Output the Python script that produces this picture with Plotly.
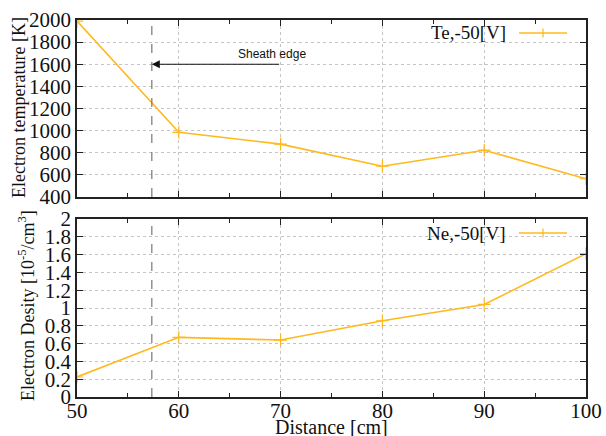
import plotly.graph_objects as go
from plotly.subplots import make_subplots

# Probe measurements at -50 V bias
distance_cm = [50, 60, 70, 80, 90, 100]
te_kelvin = [1990, 985, 878, 678, 823, 565]
ne_density = [0.225, 0.67, 0.64, 0.857, 1.04, 1.61]
sheath_edge_cm = 57.35
te_label = "Te,-50[V]"
ne_label = "Ne,-50[V]"

LINE_COLOR = "#ffb81e"
SERIF = "Liberation Serif, Times New Roman, serif"
W, H = 606, 436
ML, MR, MT, MB = 77, 20, 20, 39
PW, PH = W - ML - MR, H - MT - MB


def px_x(x):
    return (x - ML) / PW


def px_y(y):
    return (H - MB - y) / PH


fig = make_subplots(rows=2, cols=1, shared_xaxes=True, vertical_spacing=0.0)

fig.add_trace(go.Scatter(
    x=distance_cm, y=te_kelvin, mode="lines+markers", name=te_label,
    line=dict(color=LINE_COLOR, width=1.6),
    marker=dict(symbol="cross-thin", size=9, line=dict(color=LINE_COLOR, width=1.2)),
    showlegend=False), row=1, col=1)

fig.add_trace(go.Scatter(
    x=distance_cm, y=ne_density, mode="lines+markers", name=ne_label,
    line=dict(color=LINE_COLOR, width=1.6),
    marker=dict(symbol="cross-thin", size=9, line=dict(color=LINE_COLOR, width=1.2)),
    showlegend=False), row=2, col=1)

axis_common = dict(
    showline=True, linecolor="#222", linewidth=1.5, mirror="allticks",
    ticks="inside", ticklen=6, tickwidth=1, tickcolor="#222",
    showgrid=True, gridcolor="#c4c4c4", griddash="dot", gridwidth=1,
    zeroline=False, automargin=False,
    tickfont=dict(family=SERIF, size=21, color="#111"),
)

top_domain = [px_y(197), 1.0]
bot_domain = [0.0, px_y(219)]

fig.update_xaxes(**axis_common, range=[50, 100], dtick=10,
                 minor=dict(dtick=5, ticks="inside", ticklen=4, tickcolor="#222", showgrid=False))
fig.update_xaxes(showticklabels=False, row=1, col=1)
fig.update_xaxes(row=2, col=1, ticklabelstandoff=-6)

fig.update_yaxes(**axis_common)
fig.update_yaxes(row=1, col=1, range=[400, 2000], dtick=200, domain=top_domain)
fig.update_yaxes(row=2, col=1, range=[0, 2], dtick=0.2, domain=bot_domain)

shapes = []
# Sheath edge marker, one dashed segment per panel
for yref in ("y domain", "y2 domain"):
    shapes.append(dict(type="line", xref="x", yref=yref,
                       x0=sheath_edge_cm, x1=sheath_edge_cm, y0=0, y1=1,
                       line=dict(color="#777", width=1.2, dash="dash"), layer="above"))

annotations = []
title_font = dict(family=SERIF, size=18, color="#111")
# Axis titles
annotations.append(dict(text="Distance [cm]", xref="paper", yref="paper",
                        x=0.5, y=px_y(427), xanchor="center", yanchor="middle",
                        showarrow=False, font=dict(family=SERIF, size=20, color="#111")))
annotations.append(dict(text="Electron temperature [K]", xref="paper", yref="paper",
                        x=px_x(19), y=px_y(108), xanchor="center", yanchor="middle",
                        textangle=-90, showarrow=False, font=title_font))
annotations.append(dict(text="Electron Desity [10<sup>-5</sup>/cm<sup>3</sup>]",
                        xref="paper", yref="paper",
                        x=px_x(26), y=px_y(306), xanchor="center", yanchor="middle",
                        textangle=-90, showarrow=False, font=title_font))

# Opaque key boxes and key samples
for (label, y_px) in ((te_label, 33), (ne_label, 233)):
    shapes.append(dict(type="rect", xref="paper", yref="paper",
                       x0=px_x(413), x1=px_x(585), y0=px_y(y_px + 16), y1=px_y(y_px - 12),
                       fillcolor="white", line=dict(width=0), layer="between"))
    shapes.append(dict(type="line", xref="paper", yref="paper",
                       x0=px_x(519), x1=px_x(567), y0=px_y(y_px), y1=px_y(y_px),
                       line=dict(color=LINE_COLOR, width=1.6), layer="above"))
    shapes.append(dict(type="line", xref="paper", yref="paper",
                       x0=px_x(543), x1=px_x(543), y0=px_y(y_px - 4.5), y1=px_y(y_px + 4.5),
                       line=dict(color=LINE_COLOR, width=1.2), layer="above"))
    annotations.append(dict(text=label, xref="paper", yref="paper",
                            x=px_x(508), y=px_y(y_px), xanchor="right", yanchor="middle",
                            showarrow=False, font=dict(family=SERIF, size=19, color="#111")))

# Arrow pointing at the sheath edge
annotations.append(dict(x=sheath_edge_cm, y=1600, ax=70, ay=1600,
                        xref="x", yref="y", axref="x", ayref="y",
                        text="", showarrow=True, arrowhead=2, arrowsize=1.6,
                        arrowwidth=1, arrowcolor="#111"))
annotations.append(dict(x=65.6, y=1693, xref="x", yref="y", text="Sheath edge",
                        xanchor="left", yanchor="middle", showarrow=False,
                        font=dict(family="Liberation Sans, Arial, sans-serif", size=12, color="#111")))

fig.update_layout(
    width=W, height=H,
    margin=dict(l=ML, r=MR, t=MT, b=MB),
    paper_bgcolor="white", plot_bgcolor="white",
    shapes=shapes, annotations=annotations,
    showlegend=False,
)

fig.write_html("out.html")
